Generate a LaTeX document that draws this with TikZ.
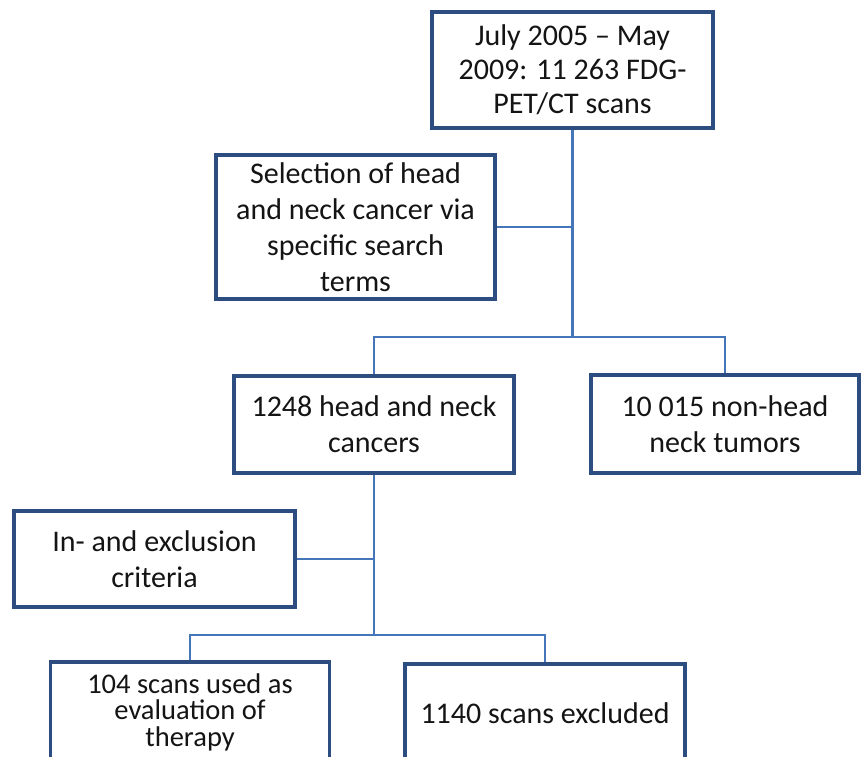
\documentclass[tikz,border=0pt]{standalone}
\usepackage{fontspec}
\setmainfont{Carlito}
\definecolor{boxline}{RGB}{45,76,128}
\definecolor{conline}{RGB}{70,118,186}
\definecolor{txt}{RGB}{20,20,20}
\newcommand\tightlines{\lineskiplimit=-20pt\relax}
\tikzset{
  fbox/.style={draw=boxline, line width=3.2pt, fill=white, rectangle, inner sep=0pt,
    align=center, text=txt, font=\fontsize{30}{36}\selectfont},
  conn/.style={draw=conline, line width=2.7pt},
}
\begin{document}
\begin{tikzpicture}[x=1pt,y=-1pt]
\useasboundingbox (0,0) rectangle (862,756);
\clip (0,0) rectangle (862,756);
\fill[white] (0,0) rectangle (862,756);
\coordinate (j1) at (572.5,337);
\coordinate (j2) at (374,635);
\node[fbox, minimum width=281, minimum height=116, font=\fontsize{30}{34}\selectfont] (top) at (572.5,70) {July 2005 -- May\\2009: 11 263 FDG-\\PET/CT scans};
\node[fbox, minimum width=279, minimum height=144] (sel) at (355.5,227) {Selection of head\\and neck cancer via\\specific search\\terms};
\node[fbox, minimum width=280, minimum height=97] (hn) at (374,424.5) {1248 head and neck\\cancers};
\node[fbox, minimum width=268, minimum height=98] (non) at (725,424) {10 015 non-head\\neck tumors};
\node[fbox, minimum width=281, minimum height=96] (crit) at (154.5,559) {In- and exclusion\\criteria};
\node[fbox, minimum width=279, minimum height=100, font=\fontsize{28.5}{26.5}\selectfont\tightlines] (ev) at (190,712) {104 scans used as\\evaluation of\\therapy};
\node[fbox, minimum width=280, minimum height=98, font=\fontsize{30}{30}\selectfont] (ex) at (545,713) {1140 scans excluded};
\draw[conn] (top.south) -- (j1);
\draw[conn] (sel.east) -- (sel.east -| j1);
\draw[conn] (hn.north) |- (j1) -| (non.north);
\draw[conn] (hn.south) -- (j2);
\draw[conn] (crit.east) -- (crit.east -| j2);
\draw[conn] (ev.north) |- (j2) -| (ex.north);
\end{tikzpicture}
\end{document}
